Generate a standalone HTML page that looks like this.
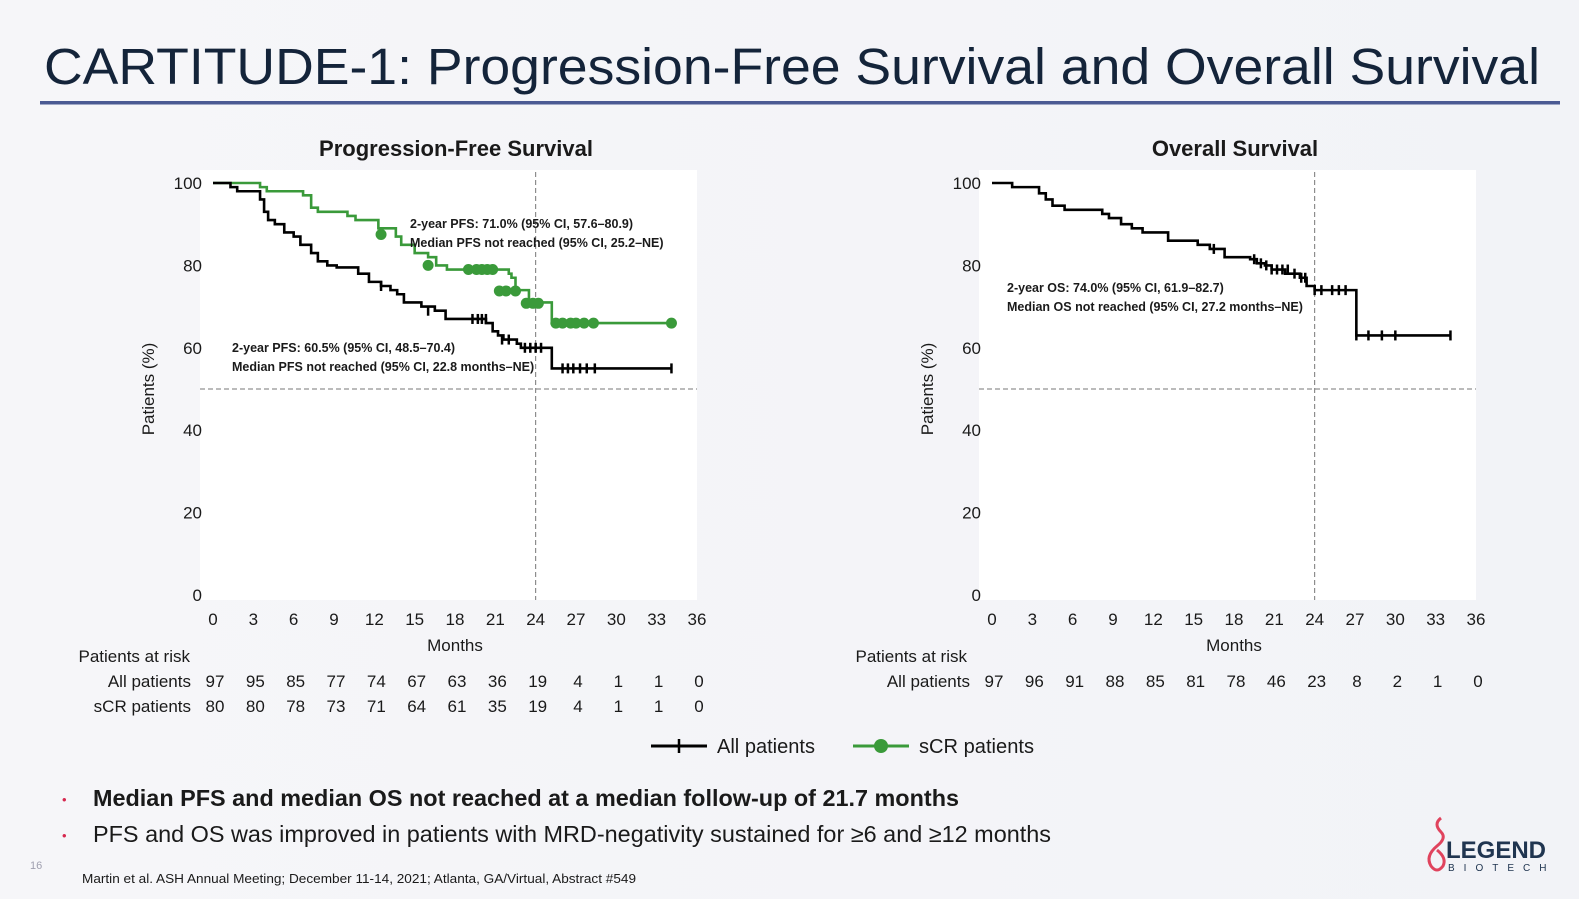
<!DOCTYPE html>
<html><head><meta charset="utf-8"><style>
html,body{margin:0;padding:0;}
body{width:1579px;height:899px;background:linear-gradient(90deg,#f6f6f9,#f2f3f7);font-family:"Liberation Sans",sans-serif;overflow:hidden;position:relative;}
svg{position:absolute;left:0;top:0;}
</style></head><body>
<svg id="s" width="1579" height="899" font-family="Liberation Sans, sans-serif">
<text x="44" y="84" font-size="51" fill="#14243a" textLength="1496" lengthAdjust="spacingAndGlyphs">CARTITUDE-1: Progression-Free Survival and Overall Survival</text>
<rect x="40" y="101" width="1520" height="3.5" fill="#4b5a93"/>
<g id="g"></g>
<g>
<line x1="651" y1="746" x2="707" y2="746" stroke="#000" stroke-width="3"/><line x1="679" y1="739" x2="679" y2="753" stroke="#000" stroke-width="2.5"/>
<text x="717" y="753" font-size="20" textLength="98" lengthAdjust="spacingAndGlyphs" fill="#1a1a1a">All patients</text>
<line x1="853" y1="746" x2="909" y2="746" stroke="#3a9a3a" stroke-width="3"/><circle cx="881" cy="746" r="7" fill="#3a9a3a"/>
<text x="919" y="753" font-size="20" textLength="115" lengthAdjust="spacingAndGlyphs" fill="#1a1a1a">sCR patients</text>
</g>
<text x="62" y="804" font-size="13" fill="#d6284f">•</text>
<text x="93" y="806" font-size="23" font-weight="bold" fill="#1a1a1a" textLength="866" lengthAdjust="spacingAndGlyphs">Median PFS and median OS not reached at a median follow-up of 21.7 months</text>
<text x="62" y="840" font-size="13" fill="#d6284f">•</text>
<text x="93" y="842" font-size="23" fill="#1a1a1a" textLength="958" lengthAdjust="spacingAndGlyphs">PFS and OS was improved in patients with MRD-negativity sustained for ≥6 and ≥12 months</text>
<text x="30" y="869" font-size="11" fill="#a0a0b0">16</text>
<text x="82" y="883" font-size="13" fill="#1a1a1a" textLength="554" lengthAdjust="spacingAndGlyphs">Martin et al. ASH Annual Meeting; December 11-14, 2021; Atlanta, GA/Virtual, Abstract #549</text>
<g>
<path d="M1441 818 q-8 6 0 14 q6 6 -4 14 q-12 10 -6 20 q6 8 12 0 q4 -8 -6 -16" fill="none" stroke="#e0435d" stroke-width="3"/>
<text x="1446" y="858" font-size="24" font-weight="bold" fill="#203550">LEGEND</text>
<text x="1448" y="871" font-size="10" fill="#203550" letter-spacing="9">BIOTECH</text>
</g>
</svg>
<script>
const xTicks=[0,3,6,9,12,15,18,21,24,27,30,33,36];
const yTicks=[0,20,40,60,80,100];
const pfsAllSteps=[[0,100],[1.3,99],[1.8,98],[3.5,96],[3.8,93],[4.1,91],[4.6,90],[5.3,88],[6.0,87],[6.5,85],[7.3,83],[7.8,81],[8.5,80],[9.2,79.5],[10.8,78],[11.6,76],[12.5,75],[13.2,74],[13.7,73],[14.2,71],[15.5,70],[16.5,69],[17.3,67],[20.3,66],[20.8,64],[21.2,63],[21.6,62],[22.6,61],[22.9,60],[25.2,55],[34.1,55]];
const pfsAllCensor=[[12.5,75],[16,69],[19.3,67],[19.7,67],[20,67],[20.3,67],[21.5,62],[22,62],[23.2,60],[23.6,60],[24,60],[24.4,60],[26,55],[26.4,55],[26.8,55],[27.3,55],[27.8,55],[28.4,55],[34.1,55]];
const pfsScrSteps=[[0,100],[3.5,99],[4,98],[6.7,97],[7.3,94],[7.8,93],[10,92],[10.6,91],[12.3,89],[13.6,87],[14,85],[15,83],[16,82],[16.6,80],[17.4,79],[22,78],[22.2,77],[22.5,74],[23.5,71],[25.2,66],[34.1,66]];
const pfsScrCensor=[[12.5,87.5],[16,80],[19,79],[19.6,79],[20,79],[20.4,79],[20.8,79],[21.3,73.8],[21.8,73.8],[22.5,73.8],[23.3,70.8],[23.8,70.8],[24.2,70.8],[25.5,66],[26,66],[26.6,66],[27,66],[27.6,66],[28.3,66],[34.1,66]];
const osSteps=[[0,100],[1.5,99],[3.5,97.5],[4,96],[4.5,94.5],[5.4,93.5],[8.2,92.5],[8.7,91.5],[9.6,90],[10.4,89],[11.2,88],[13.1,86],[15.3,85],[16.2,84],[17.3,82],[19.2,81.5],[19.7,80.5],[20.3,80],[20.8,79],[21.8,78],[22.9,77],[23.4,75],[24,74],[27.1,63],[34.1,63]];
const osCensor=[[16.5,84],[19.5,81.5],[20,80.5],[20.4,80],[20.8,79],[21.2,79],[21.6,79],[22,79],[22.5,78],[23,77],[23.3,77],[24,74],[24.5,74],[25.3,74],[25.8,74],[26.3,74],[27.1,63],[28,63],[29,63],[30,63],[34.1,63]];
const riskPfsAll=[97,95,85,77,74,67,63,36,19,4,1,1,0];
const riskPfsScr=[80,80,78,73,71,64,61,35,19,4,1,1,0];
const riskOsAll=[97,96,91,88,85,81,78,46,23,8,2,1,0];

const NS="http://www.w3.org/2000/svg";
const G=document.getElementById('g');
function mk(tag,attrs,parent,txt){const e=document.createElementNS(NS,tag);for(const k in attrs)e.setAttribute(k,attrs[k]);if(txt!==undefined)e.textContent=txt;(parent||G).appendChild(e);return e;}
function panel(x0,name,title){
  const sx=m=>x0+m*(484/36), sy=v=>595-v*4.12;
  const g=mk('g',{});
  
  
  const bg=mk('rect',{x:x0-13,y:170,width:497,height:430,fill:'#fff'},g);
  
  
  const t=mk('text',{x:x0+243,y:156,'font-size':22,'font-weight':'bold','text-anchor':'middle',fill:'#1a1a1a'},g,title);
  
  
  xTicks.forEach(v=>{const e=mk('text',{x:sx(v),y:625,'font-size':17,'text-anchor':'middle',fill:'#1a1a1a'},g,v);
    
    });
  yTicks.forEach(v=>{const e=mk('text',{x:x0-11,y:sy(v)+6,'font-size':17,'text-anchor':'end',fill:'#1a1a1a'},g,v);
    
    });
  const xl=mk('text',{x:sx(18),y:651,'font-size':17,'text-anchor':'middle',fill:'#1a1a1a'},g,'Months');
  
  
  const yl=mk('text',{x:0,y:0,'font-size':17,'text-anchor':'middle',fill:'#1a1a1a',transform:`translate(${x0-59},${sy(50)}) rotate(-90)`},g,'Patients (%)');
  
  
  mk('line',{x1:x0-13,x2:x0+484,y1:sy(50),y2:sy(50),stroke:'#777','stroke-dasharray':'5,3','stroke-width':1},g);
  mk('line',{x1:sx(24),x2:sx(24),y1:172,y2:600,stroke:'#777','stroke-dasharray':'5,3','stroke-width':1},g);
  return {g,sx,sy};
}
function curve(p,steps,cens,color,circ,name){
  let d='';steps.forEach((s,i)=>{d+=(i?`H${p.sx(s[0])}V${p.sy(s[1])}`:`M${p.sx(s[0])},${p.sy(s[1])}`);});
  const l=mk('path',{d,fill:'none',stroke:color,'stroke-width':2.6},p.g);
  
  
  cens.forEach(c=>{let e;
    if(circ)e=mk('circle',{cx:p.sx(c[0]),cy:p.sy(c[1]),r:5.5,fill:color},p.g);
    else e=mk('line',{x1:p.sx(c[0]),x2:p.sx(c[0]),y1:p.sy(c[1])-5,y2:p.sy(c[1])+5,stroke:color,'stroke-width':2.5},p.g);
    
    });
}
function note(p,x,y,l1,l2,name){
  const e=mk('text',{x,y,'font-size':12.5,fill:'#1a1a1a','font-weight':'bold'},p.g);
  
  
  mk('tspan',{x,dy:0},e,l1);mk('tspan',{x,dy:19},e,l2);
}
function risk(p,x0,label,arr,y,name){
  const e=mk('text',{x:x0-22,y,'font-size':17,'text-anchor':'end',fill:'#1a1a1a'},p.g,label);
  
  
  arr.forEach((v,i)=>{const t=mk('text',{x:p.sx(xTicks[i])+2,y,'font-size':17,'text-anchor':'middle',fill:'#1a1a1a'},p.g,v);
    
    });
}
const P=panel(213,'pfs','Progression-Free Survival');
curve(P,pfsScrSteps,pfsScrCensor,'#3a9a3a',true,'pfs-scr');
curve(P,pfsAllSteps,pfsAllCensor,'#000',false,'pfs-all');
note(P,410,228,'2-year PFS: 71.0% (95% CI, 57.6–80.9)','Median PFS not reached (95% CI, 25.2–NE)','pfs-scr-annotation');
note(P,232,352,'2-year PFS: 60.5% (95% CI, 48.5–70.4)','Median PFS not reached (95% CI, 22.8 months–NE)','pfs-all-annotation');
const pr=mk('text',{x:190,y:662,'font-size':17,'text-anchor':'end',fill:'#1a1a1a'},P.g,'Patients at risk');


risk(P,213,'All patients',riskPfsAll,687,'pfs-risk-all');
risk(P,213,'sCR patients',riskPfsScr,712,'pfs-risk-scr');
const O=panel(992,'os','Overall Survival');
curve(O,osSteps,osCensor,'#000',false,'os-all');
note(O,1007,292,'2-year OS: 74.0% (95% CI, 61.9–82.7)','Median OS not reached (95% CI, 27.2 months–NE)','os-annotation');
const orh=mk('text',{x:967,y:662,'font-size':17,'text-anchor':'end',fill:'#1a1a1a'},O.g,'Patients at risk');


risk(O,992,'All patients',riskOsAll,687,'os-risk-all');
</script>
</body></html>
